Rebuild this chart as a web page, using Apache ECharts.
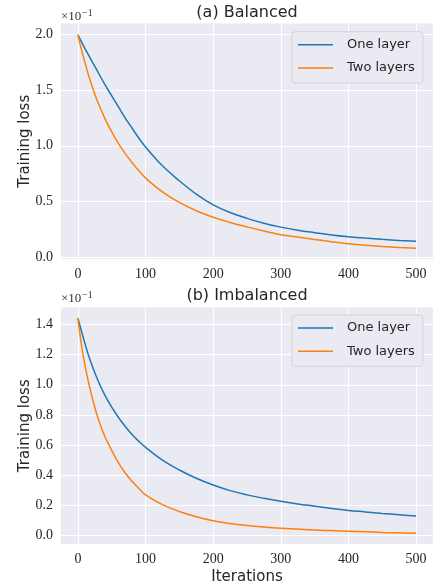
<!DOCTYPE html>
<html>
<head>
<meta charset="utf-8">
<script src="https://cdn.jsdelivr.net/npm/echarts@6/dist/echarts.min.js"></script>
<style>
html,body{margin:0;padding:0;background:#fff;}
#chart{width:435px;height:588px;}
</style>
</head>
<body>
<div id="chart"></div>
<script>
// ---- data ----
var iterations = [0,5,10,15,20,25,30,40,50,60,70,80,90,100,125,150,175,200,225,250,275,300,325,350,375,400,425,450,475,500];

var balancedOneLayer = [2.00,1.94,1.88,1.825,1.77,1.715,1.66,1.55,1.45,1.35,1.25,1.16,1.07,0.99,0.82,0.685,0.565,0.468,0.40,0.347,0.303,0.268,0.24,0.218,0.198,0.182,0.169,0.158,0.148,0.140];
var balancedTwoLayers = [2.00,1.87,1.76,1.65,1.555,1.465,1.385,1.245,1.125,1.02,0.93,0.85,0.775,0.71,0.585,0.49,0.415,0.357,0.31,0.27,0.233,0.20,0.178,0.157,0.137,0.119,0.105,0.094,0.085,0.077];

var imbalancedOneLayer = [1.442,1.36,1.28,1.205,1.14,1.08,1.025,0.93,0.852,0.783,0.723,0.67,0.625,0.585,0.50,0.435,0.38,0.335,0.298,0.27,0.247,0.227,0.21,0.195,0.18,0.167,0.157,0.147,0.138,0.129];
var imbalancedTwoLayers = [1.442,1.27,1.14,1.03,0.935,0.85,0.775,0.655,0.565,0.482,0.415,0.36,0.312,0.27,0.205,0.16,0.125,0.098,0.08,0.067,0.057,0.049,0.043,0.037,0.033,0.029,0.025,0.021,0.018,0.015];

var xTicks = [0,100,200,300,400,500];
var yTicksBalanced = [0.0,0.5,1.0,1.5,2.0];
var yTicksImbalanced = [0.0,0.2,0.4,0.6,0.8,1.0,1.2,1.4];

var seriesNames = ['One layer','Two layers'];
var panelTitles = ['(a) Balanced','(b) Imbalanced'];
var xAxisTitle = 'Iterations';
var yAxisTitle = 'Training loss';
var scaleNote = '×10';
var scaleExp = '−1';

// ---- helpers ----
function pairs(xs, ys){ return xs.map(function(x,i){ return [x, ys[i]]; }); }
var BLUE = '#1f77b4', ORANGE = '#ff7f0e';
var BG = '#EAEAF2';
var serif = '"Liberation Serif", "DejaVu Serif", serif';
var sans = '"DejaVu Sans", "Open Sans", sans-serif';

function xAxisCfg(gridIndex, withName){
  var c = {
    type:'value', gridIndex:gridIndex, min:-25, max:525,
    axisLine:{show:false}, axisTick:{show:false, customValues:xTicks},
    axisLabel:{customValues:xTicks, margin:8, fontFamily:serif, fontSize:14, color:'#262626',
      formatter:function(v){return String(Math.round(v));}},
    splitLine:{show:true, lineStyle:{color:'#ffffff', width:1}}
  };
  if (withName){
    c.name = xAxisTitle; c.nameLocation='middle'; c.nameGap=26; c.nameMoveOverlap=false;
    c.nameTextStyle = {fontFamily:sans, fontSize:15, color:'#262626'};
  }
  return c;
}
function yAxisCfg(gridIndex, mn, mx, ticks){
  return {
    type:'value', gridIndex:gridIndex, min:mn, max:mx,
    axisLine:{show:false}, axisTick:{show:false, customValues:ticks},
    axisLabel:{customValues:ticks, margin:8, fontFamily:serif, fontSize:14, color:'#262626',
      formatter:function(v){return v.toFixed(1);}},
    splitLine:{show:true, lineStyle:{color:'#ffffff', width:1}},
    name:yAxisTitle, nameLocation:'middle', nameGap:28, nameRotate:90, nameMoveOverlap:false,
    nameTextStyle:{fontFamily:sans, fontSize:15, color:'#262626'}
  };
}
function lineSeries(name, data, color, xi, yi){
  return {
    type:'line', name:name, data:data, xAxisIndex:xi, yAxisIndex:yi,
    symbol:'none', showSymbol:false, smooth:0.4,
    lineStyle:{color:color, width:1.5}, itemStyle:{color:color},
    animation:false, z:3
  };
}
function legendCfg(top){
  return {
    orient:'vertical', left:292, top:top,
    data:seriesNames.map(function(n){ return {name:n, icon:'rect'}; }),
    itemWidth:35, itemHeight:1.5, itemGap:9.3,
    padding:[6,8,8,6],
    backgroundColor:BG, borderColor:'#d3d3da', borderWidth:1, borderRadius:3,
    textStyle:{fontFamily:sans, fontSize:13, lineHeight:14, color:'#262626', padding:[0,0,0,9]},
    selectedMode:false
  };
}

var chart = echarts.init(document.getElementById('chart'), null, {renderer:'canvas'});
chart.setOption({
  animation:false,
  backgroundColor:'#ffffff',
  grid:[
    {left:61, width:372, top:23.5, height:235.5, show:true, backgroundColor:BG, borderWidth:0, containLabel:false},
    {left:61, width:372, top:307.5, height:236.5, show:true, backgroundColor:BG, borderWidth:0, containLabel:false}
  ],
  xAxis:[ xAxisCfg(0,false), xAxisCfg(1,true) ],
  yAxis:[ yAxisCfg(0,-0.019,2.101,yTicksBalanced), yAxisCfg(1,-0.056,1.513,yTicksImbalanced) ],
  legend:[ legendCfg(31.7), legendCfg(315) ],
  series:[
    lineSeries(seriesNames[0], pairs(iterations,balancedOneLayer), BLUE, 0, 0),
    lineSeries(seriesNames[1], pairs(iterations,balancedTwoLayers), ORANGE, 0, 0),
    lineSeries(seriesNames[0], pairs(iterations,imbalancedOneLayer), BLUE, 1, 1),
    lineSeries(seriesNames[1], pairs(iterations,imbalancedTwoLayers), ORANGE, 1, 1)
  ],
  graphic:[
    {type:'text', x:247, y:12.5, style:{text:panelTitles[0], fontFamily:sans, fontSize:16, fill:'#262626', textAlign:'center', textVerticalAlign:'middle'}},
    {type:'text', x:247, y:295.5, style:{text:panelTitles[1], fontFamily:sans, fontSize:16, fill:'#262626', textAlign:'center', textVerticalAlign:'middle'}},
    {type:'text', x:61, y:16.5, style:{text:scaleNote, fontFamily:serif, fontSize:13, fill:'#333333', textAlign:'left', textVerticalAlign:'middle'}},
    {type:'text', x:82, y:13, style:{text:scaleExp, fontFamily:serif, fontSize:10, fill:'#333333', textAlign:'left', textVerticalAlign:'middle'}},
    {type:'text', x:61, y:299, style:{text:scaleNote, fontFamily:serif, fontSize:13, fill:'#333333', textAlign:'left', textVerticalAlign:'middle'}},
    {type:'text', x:82, y:295.5, style:{text:scaleExp, fontFamily:serif, fontSize:10, fill:'#333333', textAlign:'left', textVerticalAlign:'middle'}}
  ]
});
</script>
</body>
</html>
